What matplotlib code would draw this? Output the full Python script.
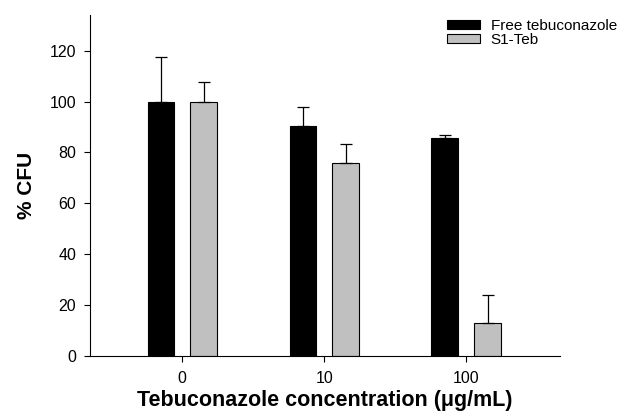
import numpy as np
import matplotlib
matplotlib.use("Agg")
import matplotlib.pyplot as plt

plt.rcParams["font.family"] = ["Liberation Sans", "DejaVu Sans"]

concs = ["0", "10", "100"]
free_teb = [100, 90.5, 85.5]
free_err = [17.5, 7.5, 1.5]
s1_teb = [100, 76, 13]
s1_err = [7.5, 7.5, 11]

fig = plt.figure(figsize=(6.44, 4.13), dpi=100)
ax = fig.add_axes([90 / 644, 57 / 413, 470 / 644, 341 / 413])

x = np.arange(len(concs))
w = 0.19
ax.bar(x - 0.15, free_teb, w, color="black", edgecolor="black", linewidth=0.8,
       label="Free tebuconazole")
ax.bar(x + 0.15, s1_teb, w, color="#c0c0c0", edgecolor="black", linewidth=0.8,
       label="S1-Teb")
ax.errorbar(x - 0.15, free_teb, yerr=[np.zeros(3), free_err], fmt="none",
            ecolor="black", elinewidth=0.9, capsize=4, capthick=0.9)
ax.errorbar(x + 0.15, s1_teb, yerr=[np.zeros(3), s1_err], fmt="none",
            ecolor="black", elinewidth=0.9, capsize=4, capthick=0.9)

ax.set_xlim(-0.65, 2.66)
ax.set_ylim(0, 134)
ax.set_xticks(x)
ax.set_xticklabels(concs)
ax.set_yticks(range(0, 121, 20))
ax.spines["top"].set_visible(False)
ax.spines["right"].set_visible(False)
ax.tick_params(labelsize=11.5, length=4, width=0.8)
ax.tick_params(axis="x", pad=7)
ax.tick_params(axis="y", pad=6)
ax.set_xlabel("Tebuconazole concentration (\u03bcg/mL)", fontsize=15.5,
              fontweight="bold", labelpad=3)
ax.set_ylabel("% CFU", fontsize=15, fontweight="bold", labelpad=10)

fig.legend(loc="upper left", bbox_to_anchor=(447 / 644, 1 - 19 / 413),
           frameon=False, fontsize=11, handlelength=2.15, handleheight=0.5,
           labelspacing=0.0, handletextpad=0.7, borderpad=0, borderaxespad=0)

fig.savefig("out.png", dpi=100)
